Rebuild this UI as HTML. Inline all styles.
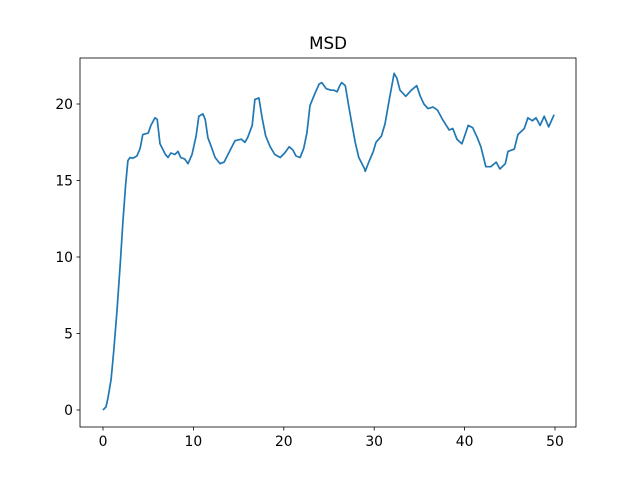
<!DOCTYPE html>
<html><head><meta charset="utf-8"><style>
body{margin:0;background:#fff;}
svg text{font-family:"DejaVu Sans","Liberation Sans",sans-serif;}
</style></head><body>
<svg id="chart" width="640" height="480">
<rect width="640" height="480" fill="#fff"/>
<text x="328" y="49" font-size="16.7" text-anchor="middle">MSD</text>
<g id="ticks"></g>
<path id="line" fill="none" stroke="#1f77b4" stroke-width="1.7" stroke-linejoin="round"/>
<rect x="80" y="58" width="496" height="369" fill="none" stroke="#000" stroke-width="0.8"/>
</svg>
<script>
const xs=[0,0.33,0.55,0.9,1.2,1.55,1.9,2.2,2.5,2.75,3.0,3.3,3.75,4.1,4.4,5.0,5.3,5.75,6.0,6.3,6.9,7.2,7.5,7.95,8.3,8.6,9.05,9.4,9.85,10.3,10.6,11.05,11.3,11.6,12.05,12.4,12.95,13.4,13.9,14.6,15.3,15.7,16.0,16.5,16.8,17.25,17.6,18.0,18.5,19.0,19.6,20.1,20.6,21.0,21.35,21.8,22.2,22.55,22.9,23.45,23.9,24.2,24.7,25.2,25.55,25.9,26.2,26.4,26.8,27.2,27.5,27.9,28.3,28.9,29.0,29.4,29.9,30.2,30.8,31.2,31.7,32.2,32.5,32.85,33.5,34.1,34.7,35.1,35.5,35.95,36.5,37.0,37.6,38.3,38.7,39.15,39.7,40.05,40.4,40.9,41.4,41.8,42.35,42.9,43.5,43.9,44.5,44.8,45.5,45.9,46.6,47.0,47.5,47.9,48.35,48.8,49.3,49.9];
const msd=[0,0.2,0.8,2,3.9,6.5,9.5,12.3,14.7,16.3,16.5,16.45,16.6,17.1,18.0,18.1,18.6,19.1,19.0,17.4,16.7,16.5,16.8,16.7,16.9,16.5,16.4,16.1,16.7,17.9,19.2,19.35,19.0,17.8,17.1,16.5,16.1,16.2,16.8,17.6,17.7,17.5,17.8,18.6,20.3,20.4,19.1,17.9,17.2,16.7,16.5,16.8,17.2,17.0,16.6,16.5,17.1,18.1,19.9,20.7,21.3,21.4,21.0,20.9,20.9,20.8,21.2,21.4,21.2,19.8,18.8,17.5,16.5,15.8,15.6,16.2,16.9,17.5,17.9,18.7,20.4,22.0,21.7,20.9,20.5,20.9,21.2,20.5,20.0,19.7,19.8,19.6,18.95,18.3,18.4,17.7,17.4,18.0,18.6,18.45,17.8,17.2,15.9,15.9,16.2,15.75,16.1,16.9,17.05,18.0,18.4,19.1,18.9,19.1,18.6,19.2,18.5,19.3];
const xTicks=[0,10,20,30,40,50];
const yTicks=[0,5,10,15,20];
const sx=v=>103+v*9.04, sy=v=>410-v*15.3;
const NS='http://www.w3.org/2000/svg';
const g=document.getElementById('ticks');
function mk(t,a){const e=document.createElementNS(NS,t);for(const k in a)e.setAttribute(k,a[k]);g.appendChild(e);return e;}
xTicks.forEach(v=>{
 const l=mk('line',{x1:sx(v),x2:sx(v),y1:427,y2:430.5,stroke:'#000','stroke-width':0.8});
 
 
 const t=mk('text',{x:sx(v),y:446,'font-size':13.9,'text-anchor':'middle'});t.textContent=v;
 
 
});
yTicks.forEach(v=>{
 const l=mk('line',{x1:76.5,x2:80,y1:sy(v),y2:sy(v),stroke:'#000','stroke-width':0.8});
 
 
 const t=mk('text',{x:73,y:sy(v)+5,'font-size':13.9,'text-anchor':'end'});t.textContent=v;
 
 
});
document.getElementById('line').setAttribute('d',xs.map((x,i)=>(i?'L':'M')+sx(x).toFixed(1)+' '+sy(msd[i]).toFixed(1)).join(''));
</script>
</body></html>
